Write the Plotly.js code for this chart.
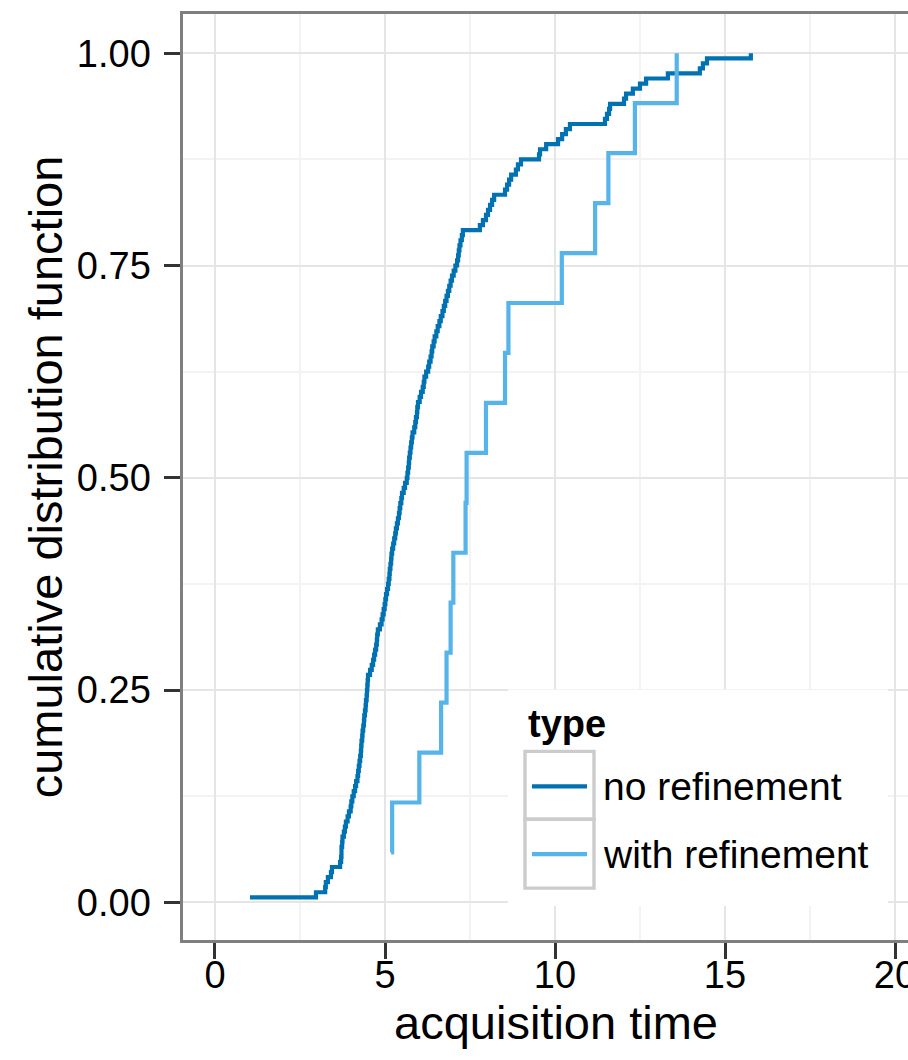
<!DOCTYPE html>
<html><head><meta charset="utf-8">
<script src="https://cdn.plot.ly/plotly-3.0.1.min.js"></script>
<style>html,body{margin:0;padding:0;overflow:hidden;background:#fff}#chart{width:940px;height:1060px}</style>
</head><body><div id="chart"></div>
<script>
// acquisition times (raw samples) for each series
const noRefinement = [1.03, 2.97, 3.24, 3.26, 3.32, 3.41, 3.44, 3.68, 3.71, 3.72,
  3.72, 3.74, 3.75, 3.79, 3.82, 3.85, 3.90, 3.94, 3.99, 4.01,
  4.04, 4.08, 4.12, 4.15, 4.19, 4.21, 4.23, 4.25, 4.27, 4.29,
  4.30, 4.31, 4.33, 4.34, 4.36, 4.38, 4.39, 4.41, 4.43, 4.44,
  4.46, 4.47, 4.48, 4.49, 4.50, 4.56, 4.61, 4.65, 4.68, 4.71,
  4.74, 4.76, 4.77, 4.79, 4.85, 4.90, 4.93, 4.96, 4.99, 5.01,
  5.03, 5.06, 5.09, 5.11, 5.13, 5.14, 5.16, 5.18, 5.19, 5.21,
  5.24, 5.27, 5.30, 5.32, 5.35, 5.38, 5.41, 5.43, 5.45, 5.48,
  5.50, 5.55, 5.59, 5.64, 5.66, 5.68, 5.70, 5.71, 5.73, 5.75,
  5.77, 5.79, 5.81, 5.86, 5.89, 5.91, 5.94, 5.95, 5.97, 6.02,
  6.06, 6.11, 6.14, 6.16, 6.21, 6.27, 6.30, 6.34, 6.37, 6.39,
  6.43, 6.46, 6.51, 6.55, 6.60, 6.64, 6.69, 6.73, 6.77, 6.81,
  6.85, 6.89, 6.93, 6.97, 7.02, 7.07, 7.12, 7.15, 7.17, 7.19,
  7.22, 7.26, 7.29, 7.79, 7.88, 7.97, 8.03, 8.09, 8.15, 8.21,
  8.53, 8.59, 8.65, 8.71, 8.85, 8.91, 9.00, 9.53, 9.56, 9.74,
  10.09, 10.21, 10.32, 10.44, 11.47, 11.53, 11.59, 11.62, 12.03, 12.09,
  12.29, 12.50, 12.68, 13.32, 14.26, 14.35, 14.47, 15.76];
const withRefinement = [5.18, 5.21, 6.01, 6.65, 6.81, 6.93, 7.01, 7.37, 7.40, 7.97,
  8.53, 8.63, 10.20, 11.18, 11.57, 12.35, 13.58];
const seriesNames = ['no refinement', 'with refinement'];
const seriesColors = ['#0072B2', '#56B4E9'];
const legendTitle = 'type';
const xTitle = 'acquisition time';
const yTitle = 'cumulative distribution function';
const xTickVals = [0, 5, 10, 15, 20];
const yTickVals = [0, 0.25, 0.5, 0.75, 1];

function ecdf(values) {
  const s = values.slice().sort((a, b) => a - b);
  return { x: s, y: s.map((_, i) => (i + 1) / s.length) };
}

const W = 940, H = 1060, ML = 183, MR = 11, MT = 12, MB = 120;
const PW = W - ML - MR, PH = H - MT - MB;
const fx = p => (p - ML) / PW;
const fy = p => (H - MB - p) / PH;

const FONT = 'Liberation Sans, Arial, Helvetica, sans-serif';
const seriesData = [noRefinement, withRefinement];

const traces = seriesData.map((vals, k) => {
  const e = ecdf(vals);
  return {
    type: 'scatter', mode: 'lines', x: e.x, y: e.y, name: seriesNames[k],
    line: { shape: 'hv', color: seriesColors[k], width: 4.2 },
    showlegend: false, hoverinfo: 'x+y'
  };
});

// legend drawn inside the panel (ggplot-style keys)
const shapes = [
  { type: 'rect', xref: 'paper', yref: 'paper', x0: fx(508), x1: fx(888), y0: fy(906), y1: fy(689),
    fillcolor: '#ffffff', line: { width: 0 }, layer: 'above' }
];
const annotations = [
  { xref: 'paper', yref: 'paper', x: fx(526), y: fy(724), xanchor: 'left', yanchor: 'middle',
    text: '<b>' + legendTitle + '</b>', showarrow: false, font: { family: FONT, size: 38, color: '#000' } }
];
const keyTop = [751, 819], keyBot = [819, 888], keyMid = [786, 854];
seriesNames.forEach((nm, k) => {
  shapes.push({ type: 'rect', xref: 'paper', yref: 'paper', x0: fx(525), x1: fx(594),
    y0: fy(keyBot[k]), y1: fy(keyTop[k]), fillcolor: '#ffffff',
    line: { color: '#cccccc', width: 3.4 }, layer: 'above' });
  shapes.push({ type: 'line', xref: 'paper', yref: 'paper', x0: fx(532), x1: fx(587),
    y0: fy(keyMid[k]), y1: fy(keyMid[k]), line: { color: seriesColors[k], width: 4.2 }, layer: 'above' });
  annotations.push({ xref: 'paper', yref: 'paper', x: fx(601), y: fy(keyMid[k]), xanchor: 'left', yanchor: 'middle',
    text: nm, showarrow: false, font: { family: FONT, size: 39, color: '#000' } });
});

const axisCommon = {
  showline: true, linecolor: '#7f7f7f', linewidth: 2.6, mirror: true,
  ticks: 'outside', ticklen: 16, tickwidth: 3, tickcolor: '#333333',
  showgrid: true, gridcolor: '#e5e5e5', gridwidth: 2, zeroline: false,
  automargin: false, tickfont: { family: FONT, size: 38, color: '#000' }
};

const layout = {
  width: W, height: H, margin: { l: ML, r: MR, t: MT, b: MB, pad: 0 },
  paper_bgcolor: '#ffffff', plot_bgcolor: '#ffffff',
  font: { family: FONT, color: '#000' },
  showlegend: false,
  xaxis: Object.assign({}, axisCommon, {
    range: [-0.941, 21], tickmode: 'array', tickvals: xTickVals, ticktext: xTickVals.map(String),
    minor: { tickmode: 'linear', tick0: 0, dtick: 2.5, showgrid: true, gridcolor: '#f3f3f3', gridwidth: 2 },
    ticklabelstandoff: -16, automargin: true,
    title: { text: xTitle, font: { family: FONT, size: 47, color: '#000' }, standoff: 4 }
  }),
  yaxis: Object.assign({}, axisCommon, {
    range: [-0.0443, 1.0462], tickmode: 'array', tickvals: yTickVals, ticktext: yTickVals.map(v => v.toFixed(2)),
    minor: { tickmode: 'linear', tick0: 0, dtick: 0.125, showgrid: true, gridcolor: '#f3f3f3', gridwidth: 2 },
    ticklabelstandoff: 6,
    title: { text: yTitle, font: { family: FONT, size: 47, color: '#000' }, standoff: 0 }
  }),
  shapes: shapes, annotations: annotations
};

Plotly.newPlot('chart', traces, layout, { displayModeBar: false, staticPlot: true });
</script>
</body></html>
